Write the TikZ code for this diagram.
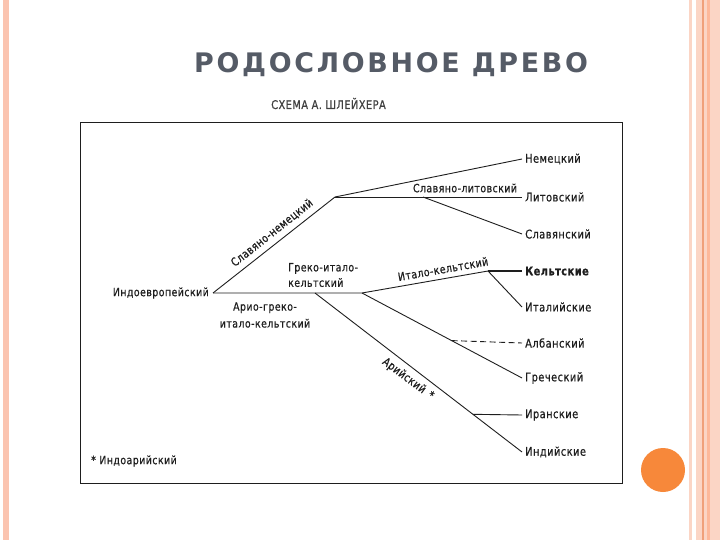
\documentclass[tikz,border=0pt]{standalone}
\usepackage{fontspec}
\usetikzlibrary{calc}
\newfontfamily\titlefont[LetterSpace=10]{DejaVu Sans}
\newfontfamily\dfont[FakeStretch=0.82,LetterSpace=4,FakeBold=0.6]{DejaVu Sans}
\definecolor{titlegray}{HTML}{555B66}
\definecolor{stripeA}{HTML}{FBD5C5}
\definecolor{stripeB}{HTML}{F0A07A}
\definecolor{stripeC}{HTML}{FDB89A}
\definecolor{stripeL}{HTML}{FBC4B0}
\definecolor{dotorange}{HTML}{F7883A}
\definecolor{ink}{HTML}{1E1E1E}
\tikzset{
  lbl/.style={font=\dfont\fontsize{11.5}{13}\selectfont, text=ink, inner sep=1bp},
  leaf/.style={font=\dfont\fontsize{12}{14}\selectfont, text=ink, anchor=west, inner sep=3bp},
  branch/.style={draw=ink, line width=0.9bp},
}
\begin{document}
\begin{tikzpicture}[x=1bp,y=-1bp]
\useasboundingbox (0,0) rectangle (720,540);
\fill[white] (0,0) rectangle (720,540);
% decorative stripes
\fill[stripeL] (3,0) rectangle (9,540);
\fill[stripeA] (689,0) rectangle (692,540);
\fill[stripeA] (696,0) rectangle (702,540);
\fill[stripeB] (702,0) rectangle (703.5,540);
\fill[stripeA] (703.5,0) rectangle (707,540);
\fill[stripeC] (707,0) rectangle (710,540);
\fill[stripeA] (710,0) rectangle (720,540);
\fill[dotorange] (663,470) circle (22);
% title
\node[font=\titlefont\bfseries\fontsize{27}{30}\selectfont, text=titlegray, anchor=base west, inner sep=0] (title) at (194,73) {РОДОСЛОВНОЕ ДРЕВО};
\node[font=\dfont\fontsize{12}{14}\selectfont, text=ink!85, anchor=base west, inner sep=0] (sub) at (271,109) {СХЕМА А. ШЛЕЙХЕРА};
% frame
\draw[draw=ink, line width=0.9bp] (80,122) rectangle (622,483);
% root and leaves
\node[lbl, anchor=east, inner sep=4bp] (ie) at (213,293) {Индоевропейский};
\node[leaf] (nem) at (522,159) {Немецкий};
\node[leaf] (lit) at (522,197) {Литовский};
\node[leaf] (slav) at (522,234) {Славянский};
\node[leaf, font=\dfont\bfseries\fontsize{12}{14}\selectfont] (kelt) at (522,271) {Кельтские};
\node[leaf] (ital) at (522,307) {Италийские};
\node[leaf] (albn) at (522,343) {Албанский};
\node[leaf] (grech) at (522,378) {Греческий};
\node[leaf] (irn) at (522,415) {Иранские};
\node[leaf] (ind) at (522,452) {Индийские};
% branch points
\coordinate (sn) at (335,197);
\coordinate (sl) at (423,197);
\coordinate (agik) at (315,293);
\coordinate (gik) at (362,293);
\coordinate (ik) at (488,271);
\coordinate (alb) at ($(gik)!0.56!(grech.west)$);
\coordinate (iran) at ($(agik)!0.763!(ind.west)$);
% connectors
\draw[branch] (ie.east) -- (sn) -- (nem.west);
\draw[branch] (sn) -- (lit.west);
\draw[branch] (sl) -- (slav.west);
\draw[branch] (ie.east) -- (gik) -- (ik);
\draw[branch, line width=2bp] (ik) -- (kelt.west);
\draw[branch] (ik) -- (ital.west);
\draw[branch] (gik) -- (grech.west);
\draw[branch, dash pattern=on 6bp off 3.5bp] (alb) -- (albn.west);
\draw[branch] (agik) -- (ind.west);
\draw[branch] (iran) -- (irn.west);
% branch labels
\node[lbl, rotate=38.5] (l-sn) at (272,233) {Славяно-немецкий};
\node[lbl] (l-sl) at (465,188) {Славяно-литовский};
\node[lbl, align=left, anchor=west, font=\dfont\fontsize{11.5}{15.5}\selectfont] (l-gik) at (287,275) {Греко-итало-\\кельтский};
\node[lbl, rotate=10] (l-ik) at (443,269) {Итало-кельтский};
\node[lbl, align=center, font=\dfont\fontsize{11.5}{17}\selectfont] (l-agik) at (265,315) {Арио-греко-\\итало-кельтский};
\node[lbl, rotate=-36.8] (l-ar) at (408,379) {Арийский\, *};
\node[lbl, anchor=west] (note) at (90,461) {* Индоарийский};
\end{tikzpicture}
\end{document}
